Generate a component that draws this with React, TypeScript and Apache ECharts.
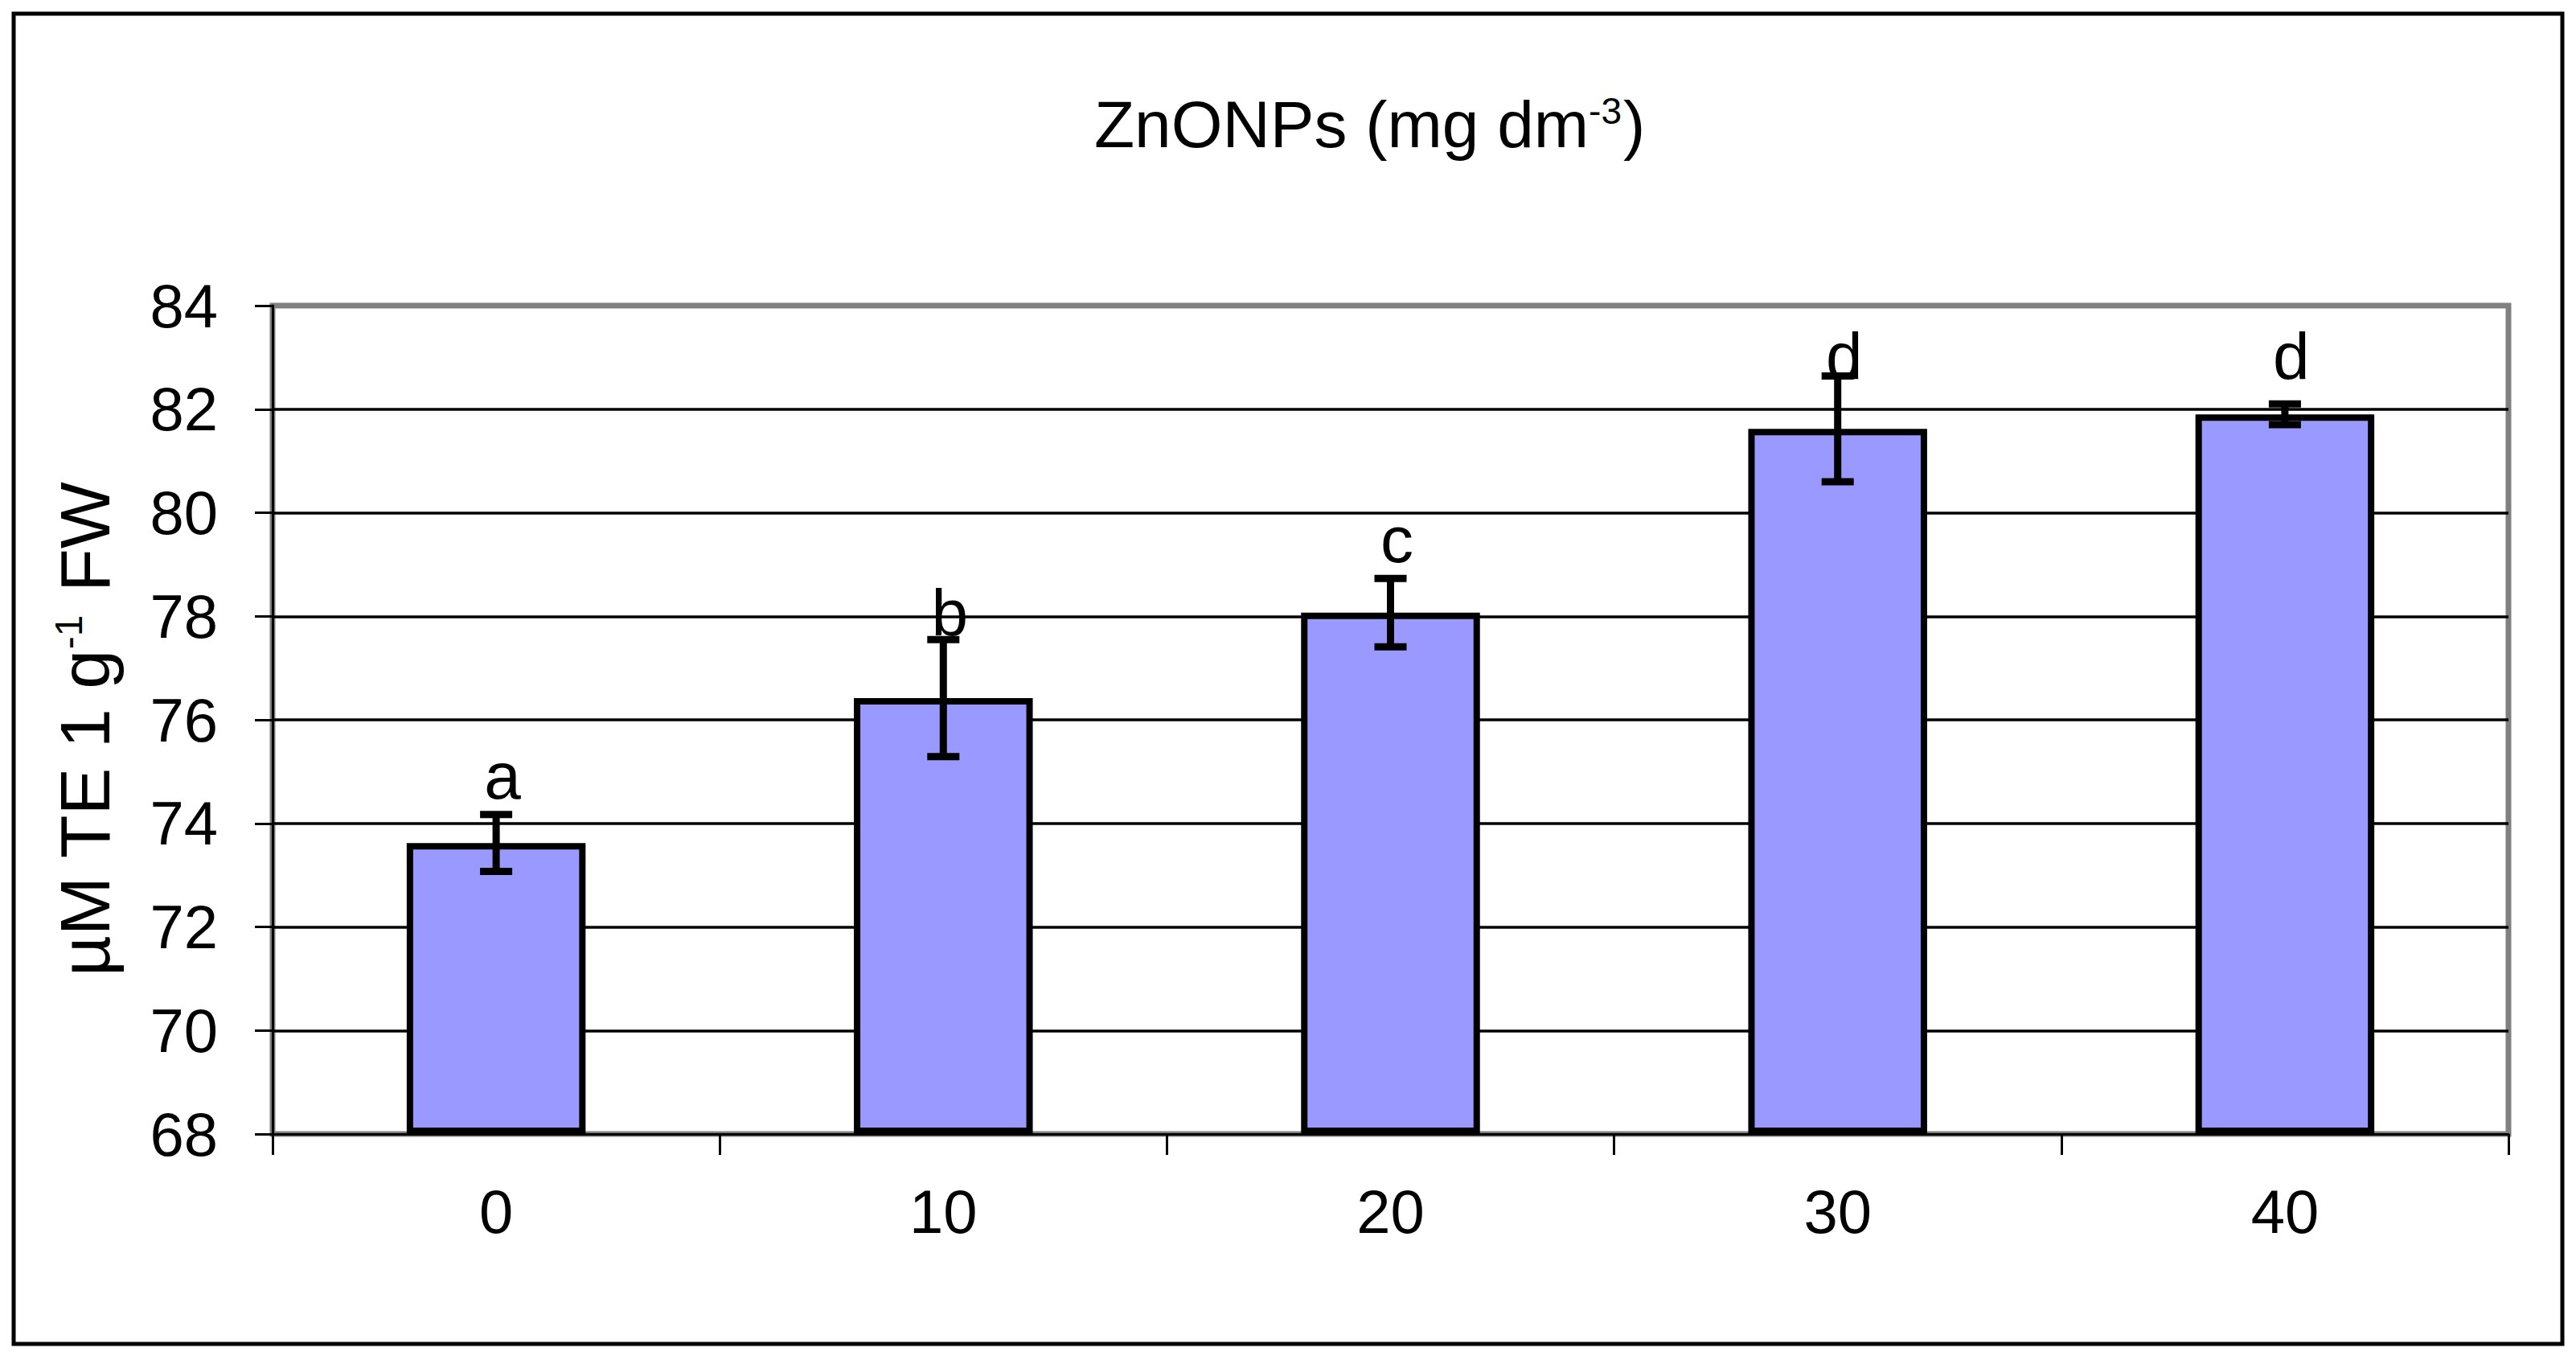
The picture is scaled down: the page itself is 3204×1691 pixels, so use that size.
import React, { useEffect, useRef } from 'react';
import * as echarts from 'echarts';

const categories = ['0', '10', '20', '30', '40'];
const means = [73.62, 76.42, 78.07, 81.62, 81.9];
const errors = [0.55, 1.13, 0.66, 1.02, 0.2];
const letters = ['a', 'b', 'c', 'd', 'd'];
// baseline level (in axis units) of each significance letter
const letterLevels = [74.49, 77.64, 79.06, 82.6, 82.6];
const yMin = 68;
const yMax = 84;
const yInterval = 2;

const FONT = '"Liberation Sans", Arial, Helvetica, sans-serif';

export default function App() {
  const ref = useRef<HTMLDivElement>(null);
  useEffect(() => {
    document.body.style.margin = '0';
    const chart = echarts.init(ref.current!, null, { renderer: 'svg' });
    const errData = means.map((m, i) => [i, m, errors[i], letterLevels[i]]);
    chart.setOption({
      animation: false,
      backgroundColor: '#ffffff',
      title: {
        text: '{n|ZnONPs (mg dm}{s|-3}{n|)}',
        left: 1356,
        top: 108,
        textStyle: {
          fontSize: 82,
          fontWeight: 'normal',
          fontFamily: FONT,
          color: '#000',
          rich: {
            n: { fontSize: 82, fontWeight: 'normal', fontFamily: FONT, color: '#000' },
            s: { fontSize: 46, fontWeight: 'normal', fontFamily: FONT, color: '#000', verticalAlign: 'top', padding: [2, 2, 0, 0] },
          },
        },
      },
      grid: {
        left: 339,
        right: 84,
        top: 380,
        bottom: 281,
        show: true,
        borderColor: '#808080',
        borderWidth: 7,
        backgroundColor: 'transparent',
        containLabel: false,
      },
      xAxis: {
        type: 'category',
        data: categories,
        boundaryGap: true,
        axisLine: { show: true, lineStyle: { color: '#000', width: 3 } },
        axisTick: { show: true, length: 26, lineStyle: { color: '#000', width: 3 } },
        axisLabel: { fontSize: 76, fontFamily: FONT, color: '#000', margin: 58 },
        splitLine: { show: false },
      },
      yAxis: {
        type: 'value',
        min: yMin,
        max: yMax,
        interval: yInterval,
        startValue: yMin,
        axisLine: { show: true, lineStyle: { color: '#000', width: 3 } },
        axisTick: { show: true, length: 22, lineStyle: { color: '#000', width: 3 } },
        axisLabel: { fontSize: 76, fontFamily: FONT, color: '#000', margin: 68 },
        splitLine: { show: true, showMinLine: false, showMaxLine: false, lineStyle: { color: '#000', width: 3.5 } },
        name: '{n|µM TE 1 g}{s|-1}{n| FW}',
        nameLocation: 'middle',
        nameRotate: 90,
        nameGap: 190,
        nameTextStyle: {
          fontSize: 88,
          fontFamily: FONT,
          color: '#000',
          padding: [0, 24, 0, 0],
          rich: {
            n: { fontSize: 88, fontFamily: FONT, color: '#000' },
            s: { fontSize: 48, fontFamily: FONT, color: '#000', verticalAlign: 'top', padding: [0, 4, 0, 0] },
          },
        },
      },
      series: [
        {
          type: 'bar',
          data: means,
          barWidth: '40%',
          itemStyle: { color: '#9999FF', borderColor: '#000', borderWidth: 8 },
          z: 2,
        },
        {
          type: 'custom',
          data: errData,
          encode: { x: 0, y: 1 },
          z: 5,
          clip: false,
          renderItem: (params: any, api: any) => {
            const i = api.value(0);
            const m = api.value(1);
            const e = api.value(2);
            const ly = api.value(3);
            const top = api.coord([i, m + e]);
            const bot = api.coord([i, m - e]);
            const lp = api.coord([i, ly]);
            const x = top[0];
            const hw = 20;
            const st = { stroke: '#000', lineWidth: 9 };
            return {
              type: 'group',
              children: [
                { type: 'line', shape: { x1: x, y1: top[1], x2: x, y2: bot[1] }, style: st },
                { type: 'line', shape: { x1: x - hw, y1: top[1], x2: x + hw, y2: top[1] }, style: st },
                { type: 'line', shape: { x1: x - hw, y1: bot[1], x2: x + hw, y2: bot[1] }, style: st },
                {
                  type: 'text',
                  x: lp[0] + 8,
                  y: lp[1] - 28,
                  style: {
                    text: letters[params.dataIndex],
                    font: `82px ${FONT}`,
                    fill: '#000',
                    textAlign: 'center',
                    textVerticalAlign: 'middle',
                  },
                },
              ],
            };
          },
        },
      ],
      graphic: [
        {
          type: 'rect',
          silent: true,
          shape: { x: 17, y: 17, width: 3170, height: 1654 },
          style: { fill: 'transparent', stroke: '#000', lineWidth: 5 },
        },
      ],
    });
    return () => chart.dispose();
  }, []);
  return <div ref={ref} style={{ width: 3204, height: 1691 }} />;
}
